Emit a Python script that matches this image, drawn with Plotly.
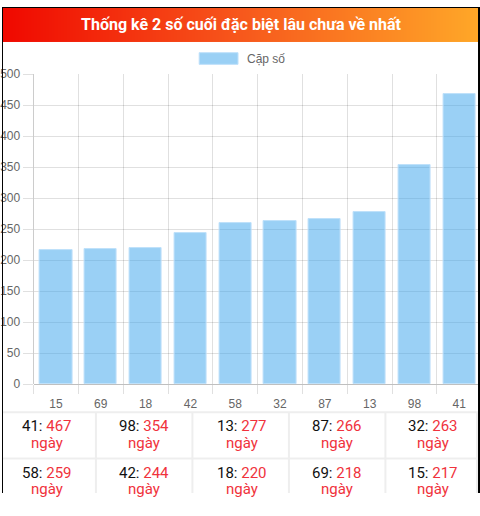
import plotly.graph_objects as go

# a 500px tall figure is shown 1:1 from the top of the window, so every
# position below is given in window pixels
W, H = 480, 500
TOP = 0

# data
pairs = ["15", "69", "18", "42", "58", "32", "87", "13", "98", "41"]
days = [217, 218, 220, 244, 259, 263, 266, 277, 354, 467]
y_ticks = [0, 50, 100, 150, 200, 250, 300, 350, 400, 450, 500]

TITLE = "Thống kê 2 số cuối đặc biệt lâu chưa về nhất"
LEGEND_NAME = "Cặp số"
RED = "#f0323c"
BAR_FILL = "rgba(54,162,235,0.5)"
BAR_EDGE = "rgba(190,224,250,1)"
GRID = "rgba(0,0,0,0.12)"


def px(x):
    return x / W


def py(y):
    return min(1, max(0, 1 - (y - TOP) / H))


fig = go.Figure()

# bars
fig.add_trace(go.Bar(
    x=list(range(len(pairs))), y=days, width=0.72,
    marker=dict(color=BAR_FILL, line=dict(color=BAR_EDGE, width=1)),
    showlegend=False, hoverinfo="x+y",
))

# header gradient (smoothed heatmap on a hidden axis)
fig.add_trace(go.Heatmap(
    z=[[0, 1]], x=[0, 1], y=[0], zsmooth="best", showscale=False,
    colorscale=[[0, "rgb(240,8,0)"], [0.5, "rgb(247,88,28)"], [1, "rgb(255,168,40)"]],
    xaxis="x2", yaxis="y2", hoverinfo="skip",
))

cat_w = (481.7 - 31.7) / len(pairs)
fig.update_layout(
    width=W, height=H, autosize=False,
    margin=dict(l=0, r=0, t=0, b=0),
    paper_bgcolor="white", plot_bgcolor="white",
    font=dict(family="Liberation Sans, Arial, sans-serif", size=12, color="#666"),
    bargap=0,
    xaxis=dict(
        domain=[px(31.7), 1],
        range=[-0.5, len(pairs) - 0.5 - (481.7 - W) / cat_w],
        tickvals=list(range(len(pairs))), ticktext=pairs,
        ticks="", showgrid=False, zeroline=False, showline=False,
        ticklabelstandoff=11,
        tickfont=dict(size=12, color="#666"),
        minor=dict(tickvals=[i - 0.5 for i in range(len(pairs) + 1)],
                   showgrid=True, gridcolor=GRID, gridwidth=1,
                   ticks="outside", ticklen=9, tickcolor=GRID),
        fixedrange=True,
    ),
    yaxis=dict(
        domain=[py(388), py(69)],
        range=[0, 500], tickvals=y_ticks,
        ticks="outside", ticklen=10, tickcolor=GRID,
        showgrid=True, gridcolor=GRID, gridwidth=1,
        zeroline=True, zerolinecolor="rgba(0,0,0,0.25)", zerolinewidth=1,
        showline=True, linecolor="rgba(0,0,0,0.2)", linewidth=1,
        tickfont=dict(size=12, color="#666"),
        fixedrange=True,
    ),
    xaxis2=dict(domain=[0, 1], range=[0, 1], visible=False, fixedrange=True),
    yaxis2=dict(domain=[py(36), py(1)], range=[-0.5, 0.5], visible=False, fixedrange=True),
)

shapes = []
annotations = []

# title
annotations.append(dict(
    x=0.5, y=py(18), xref="paper", yref="paper", showarrow=False,
    text="<b>" + TITLE + "</b>", xanchor="center", yanchor="middle",
    font=dict(family="Roboto, sans-serif", size=16, color="white"),
))

# legend
shapes.append(dict(type="rect", xref="paper", yref="paper",
                   x0=px(198), x1=px(237), y0=py(59), y1=py(47),
                   fillcolor=BAR_FILL, line=dict(color=BAR_EDGE, width=1)))
annotations.append(dict(
    x=px(244), y=py(53), xref="paper", yref="paper", showarrow=False,
    text=LEGEND_NAME, xanchor="left", yanchor="middle",
    font=dict(family="Liberation Sans, Arial, sans-serif", size=12, color="#666"),
))

# table under the chart
shapes.append(dict(type="rect", xref="paper", yref="paper", layer="below",
                   x0=0, x1=1, y0=py(513), y1=py(416),
                   fillcolor="#eeeeee", line=dict(width=0)))
col_edges = [(0, 93.3), (95.3, 190.2), (192.2, 287.1), (289.1, 384), (386, 476)]
text_cx = [45.5, 142.5, 241, 336, 432.5]
row_edges = [(418, 463.5), (465.5, 511)]
line1_y = [431.5, 479.5]
line2_y = [449, 496]

order = sorted(range(len(days)), key=lambda i: days[i], reverse=True)
for k, idx in enumerate(order):
    r, c = divmod(k, 5)
    x0, x1 = col_edges[c]
    y0, y1 = row_edges[r]
    shapes.append(dict(type="rect", xref="paper", yref="paper", layer="below",
                       x0=px(x0), x1=px(x1), y0=py(y1), y1=py(y0),
                       fillcolor="white", line=dict(width=0)))
    annotations.append(dict(
        x=px(text_cx[c]), y=py(line1_y[r]), xref="paper", yref="paper",
        showarrow=False, xanchor="center", yanchor="middle",
        text=f"{pairs[idx]}: <span style='color:{RED}'>{days[idx]}</span>",
        font=dict(family="Roboto, sans-serif", size=15, color="#111"),
    ))
    annotations.append(dict(
        x=px(text_cx[c]), y=py(line2_y[r]), xref="paper", yref="paper",
        showarrow=False, xanchor="center", yanchor="middle",
        text="ngày",
        font=dict(family="Roboto, sans-serif", size=15, color=RED),
    ))

# outer frame (top, left, right)
for (a0, a1, b0, b1) in [(0, W, 0, 1), (0, 1, 0, 516), (478, W, 0, 516)]:
    shapes.append(dict(type="rect", xref="paper", yref="paper",
                       x0=px(a0), x1=px(a1), y0=py(b1), y1=py(b0),
                       fillcolor="black", line=dict(width=0)))

fig.update_layout(shapes=shapes, annotations=annotations)

reset_css = (
    "var s=document.createElement('style');"
    "s.textContent='html,body{margin:0!important;padding:0!important;overflow:hidden;}';"
    "document.head.appendChild(s);"
)
fig.write_html("out.html", config={"displayModeBar": False}, post_script=reset_css)
